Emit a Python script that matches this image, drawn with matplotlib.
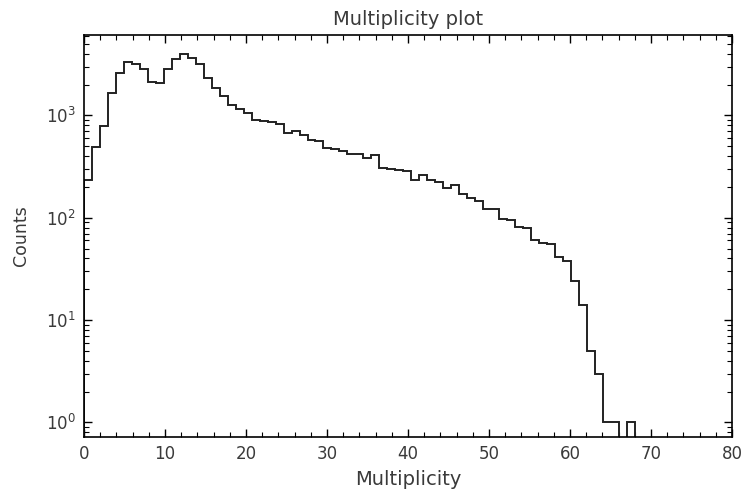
import numpy as np
import matplotlib
matplotlib.use("Agg")
import matplotlib.pyplot as plt
from matplotlib.ticker import MultipleLocator

# counts per bin (69 bins spanning multiplicity 0..68)
counts = [232, 491, 781, 1651, 2612, 3289, 3194, 2810, 2133, 2066,
          2831, 3541, 3965, 3597, 3167, 2311, 1864, 1532, 1252, 1162,
          1062, 908, 874, 870, 830, 672, 698, 638, 570, 565,
          484, 466, 448, 417, 415, 383, 407, 306, 300, 295,
          284, 232, 260, 236, 224, 193, 208, 169, 157, 146,
          123, 121, 98, 95, 81, 80, 61, 57, 55, 41,
          38, 24, 14, 5, 3, 1, 1, 0, 1]
mult_max = 68
edges = np.linspace(0, mult_max, len(counts) + 1)
centers = 0.5 * (edges[:-1] + edges[1:])

fig = plt.figure(figsize=(7.44, 4.97), dpi=100)
ax = fig.add_axes([84 / 744, 1 - 437 / 497, (732 - 84) / 744, (437 - 35) / 497])

ax.hist(centers, bins=edges, weights=counts, histtype='step',
        color='#222222', linewidth=1.4, log=True)

ax.set_xlim(0, 80)
ax.set_ylim(0.72, 6100)
ax.xaxis.set_major_locator(MultipleLocator(10))
ax.xaxis.set_minor_locator(MultipleLocator(2))
ax.tick_params(which='both', direction='in', top=True, right=True,
               labelsize=12, labelcolor='#3a3a3a', pad=6)
ax.tick_params(which='major', length=6, width=1)
ax.tick_params(which='minor', length=3.5, width=0.8)
for s in ax.spines.values():
    s.set_linewidth(1.2)

ax.set_title("Multiplicity plot", fontsize=14, color='#3a3a3a', pad=7)
ax.set_xlabel("Multiplicity", fontsize=14, color='#3a3a3a', labelpad=5)
ax.set_ylabel("Counts", fontsize=12.5, color='#3a3a3a', labelpad=11)

fig.savefig("out.png", dpi=100)
